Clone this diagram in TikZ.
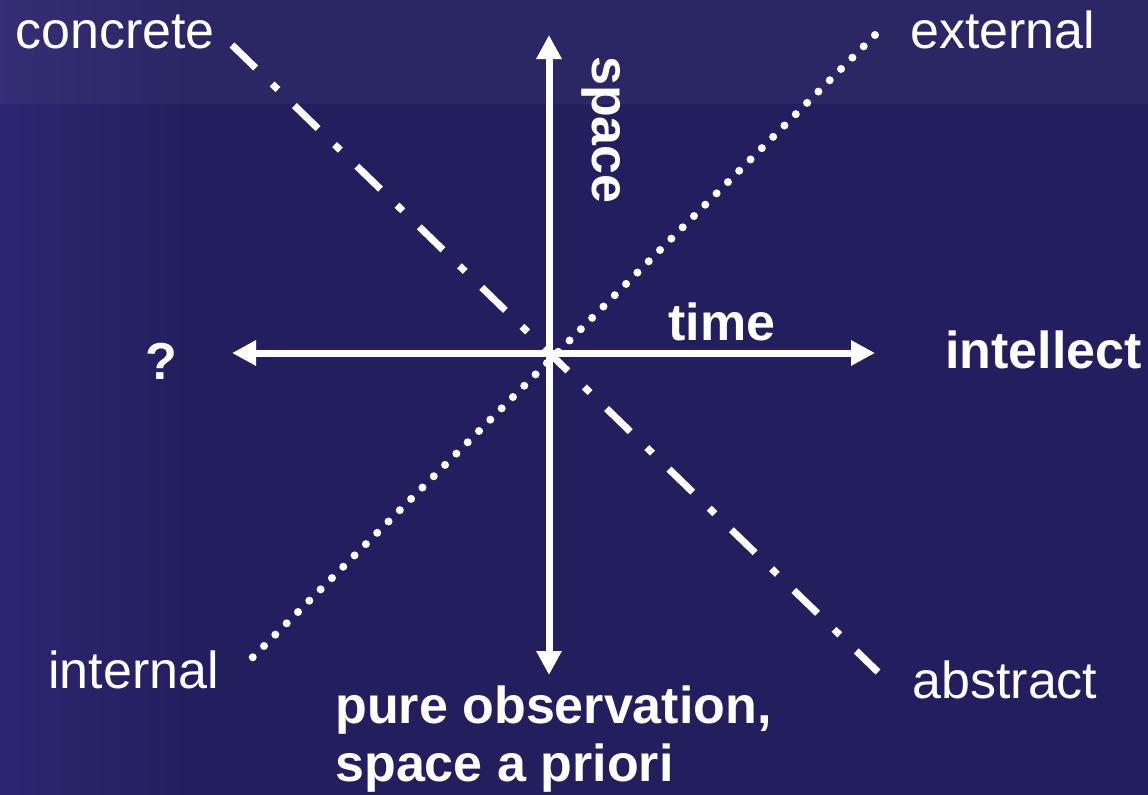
\documentclass[tikz,border=0pt]{standalone}
\usepackage{fontspec}
\setmainfont{Liberation Sans}
\usetikzlibrary{arrows.meta}
\definecolor{slidebg}{RGB}{35,31,94}
\definecolor{slideglow}{RGB}{45,38,114}
\begin{document}
\begin{tikzpicture}[x=0.5pt,y=-0.5pt,
  every node/.style={text=white,inner sep=0pt,font=\fontsize{26}{29}\selectfont},
  lbl/.style={anchor=base west},
  axisline/.style={white,line width=3.5pt,{Triangle[length=12pt,width=12pt]}-{Triangle[length=12pt,width=12pt]}},
  dashdotline/.style={white,line width=3.5pt,dash pattern=on 16.5pt off 11.5pt on 4pt off 11.5pt},
  dotline/.style={white,line width=4pt,line cap=round,dash pattern=on 0pt off 8pt}]
% Slide background
\useasboundingbox (0,0) rectangle (1148,794);
\fill[slidebg] (-10,-10) rectangle (1158,804);
\shade[left color=slideglow,right color=slidebg] (-10,-10) rectangle (190,804);
\fill[white,opacity=0.04] (-10,-10) rectangle (1158,104);
% Ends of the lines
\coordinate (cTop) at (232,45);
\coordinate (cBot) at (878,672);
\coordinate (eTop) at (875,35);
\coordinate (eBot) at (250,660);
\coordinate (vTop) at (549,35);
\coordinate (vBot) at (549,675);
\coordinate (hLeft) at (232,353);
\coordinate (hRight) at (875,353);
% Diagonals and axes
\draw[dashdotline] (cTop) -- (cBot);
\draw[dotline] (eTop) -- (eBot);
\draw[axisline] (vTop) -- (vBot);
\draw[axisline] (hLeft) -- (hRight);
% Labels
\node[lbl] (concrete) at (15,48) {concrete};
\node[lbl] (external) at (910,48) {external};
\node[lbl] (internal) at (48,688) {internal};
\node[lbl] (abstract) at (912,698) {abstract};
\node[lbl] (unknown) at (145,379) {\bfseries ?};
\node[lbl] (intellect) at (945,368) {\bfseries intellect};
\node[lbl] (time) at (668,340) {\bfseries time};
\node[anchor=base,rotate=-90] (space) at (592,130) {\bfseries space};
\node[anchor=north west,align=left,font=\fontsize{26}{29}\selectfont\bfseries] (pure) at (335,685) {pure observation,\\space a priori};
\end{tikzpicture}
\end{document}
